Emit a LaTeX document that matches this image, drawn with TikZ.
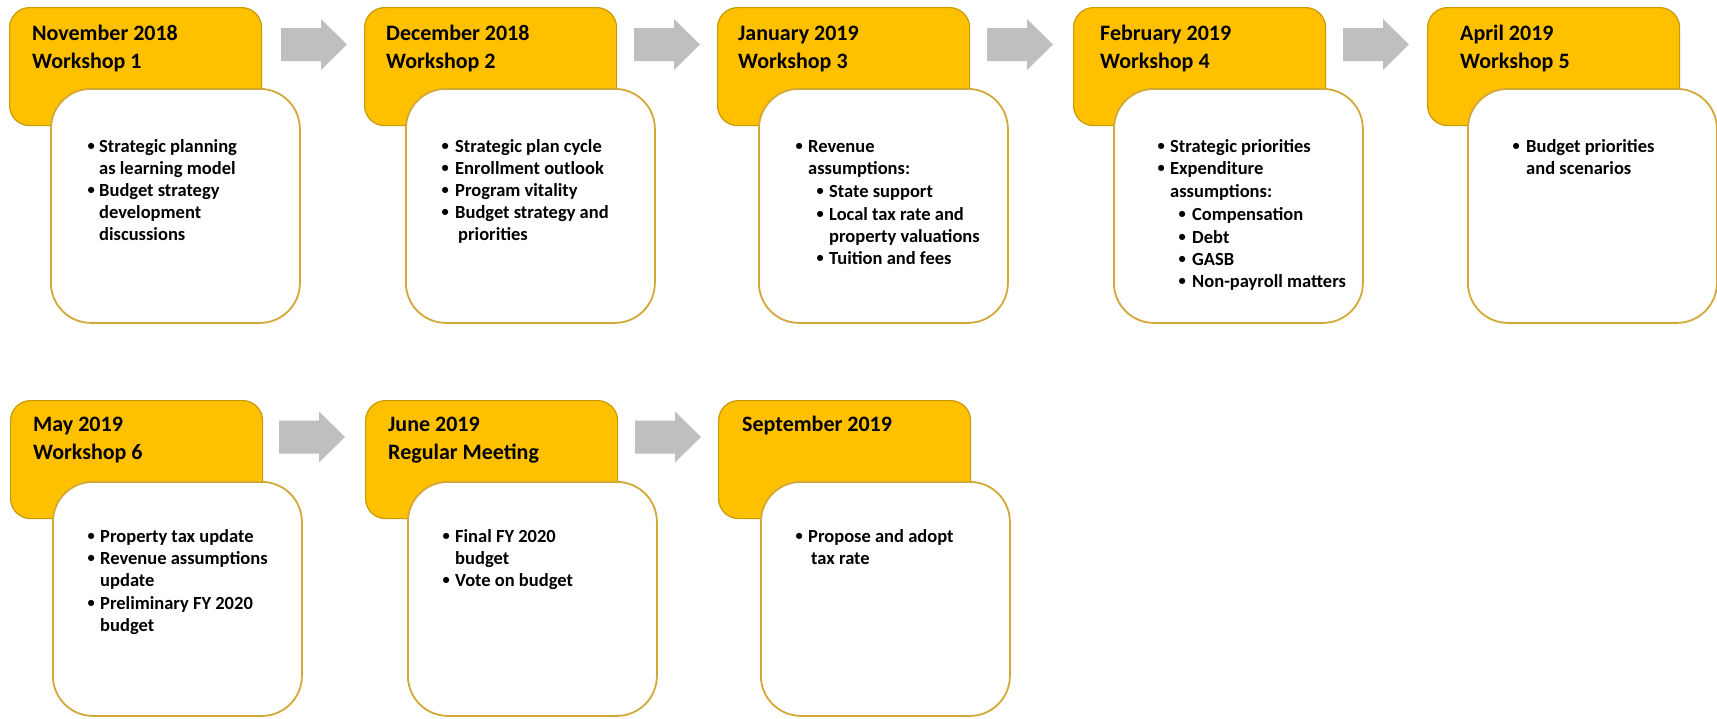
\documentclass[tikz,border=0pt]{standalone}
\usepackage{fontspec}
\setmainfont{Carlito}
\definecolor{gold}{HTML}{FFC000}
\definecolor{goldline}{HTML}{C89B06}
\definecolor{wline}{HTML}{D2A837}
\definecolor{arrowgray}{HTML}{BFBFBF}
\tikzset{
 ybox/.style={draw=goldline, line width=1.2pt, fill=gold, rounded corners=20pt, minimum width=252pt, minimum height=118pt, anchor=north west, inner sep=0pt},
 wbox/.style={draw=wline, line width=1.8pt, fill=white, rounded corners=40pt, minimum width=249pt, minimum height=234pt, anchor=north west, inner sep=0pt},
 ttl/.style={anchor=base west, font=\bfseries\fontsize{22}{27}\selectfont, inner sep=0pt},
 txt/.style={anchor=base west, font=\bfseries\fontsize{18.5}{22}\selectfont, inner sep=0pt},
 bul/.style={anchor=base west, font=\bfseries\fontsize{14.5}{16}\selectfont, inner sep=0pt},
 blk/.style={fill=arrowgray},
 blockarrow/.pic={\fill[blk] (0,-16.5) -- (40,-16.5) -- (40,-25.5) -- (66,0) -- (40,25.5) -- (40,16.5) -- (0,16.5) -- cycle;}
}
\newcommand{\bdot}{\raisebox{1.3pt}{•}}
\begin{document}
\begin{tikzpicture}[x=1pt,y=-1pt]
\useasboundingbox (0,0) rectangle (1717,718);
% ---------- row 1 ----------
\node[ybox] (y1) at (9,7) {};
\node[wbox] (w1) at (50,88) {};
\node[ybox] (y2) at (364,7) {};
\node[wbox] (w2) at (405,88) {};
\node[ybox] (y3) at (717,7) {};
\node[wbox] (w3) at (758,88) {};
\node[ybox] (y4) at (1073,7) {};
\node[wbox] (w4) at (1113,88) {};
\node[ybox] (y5) at (1427,7) {};
\node[wbox] (w5) at (1467,88) {};
% ---------- row 2 ----------
\node[ybox] (y6) at (10,400) {};
\node[wbox] (w6) at (52,481) {};
\node[ybox] (y7) at (365,400) {};
\node[wbox] (w7) at (407,481) {};
\node[ybox] (y8) at (718,400) {};
\node[wbox] (w8) at (760,481) {};
% ---------- arrows ----------
\pic at (281,44.5) {blockarrow};
\pic at (634,44.5) {blockarrow};
\pic at (987,44.5) {blockarrow};
\pic at (1343,44.5) {blockarrow};
\pic at (279,437) {blockarrow};
\pic at (635,437) {blockarrow};
% ---------- titles ----------
\node[ttl] (t1a) at (32,40) {November 2018};
\node[ttl] (t1b) at (32,68) {Workshop 1};
\node[ttl] (t2a) at (386,40) {December 2018};
\node[ttl] (t2b) at (386,68) {Workshop 2};
\node[ttl] (t3a) at (738,40) {January 2019};
\node[ttl] (t3b) at (738,68) {Workshop 3};
\node[ttl] (t4a) at (1100,40) {February 2019};
\node[ttl] (t4b) at (1100,68) {Workshop 4};
\node[ttl] (t5a) at (1460,40) {April 2019};
\node[ttl] (t5b) at (1460,68) {Workshop 5};
\node[ttl] (t6a) at (33,431) {May 2019};
\node[ttl] (t6b) at (33,459) {Workshop 6};
\node[ttl] (t7a) at (388,431) {June 2019};
\node[ttl] (t7b) at (388,459) {Regular Meeting};
\node[ttl] (t8a) at (742,431) {September 2019};
% ---------- box 1 ----------
\node[bul] (b1a) at (87.5,152) {\bdot};
\node[txt] (l1a) at (99,152) {Strategic planning};
\node[txt] (l1b) at (99,174) {as learning model};
\node[bul] (b1b) at (87.5,196) {\bdot};
\node[txt] (l1c) at (99,196) {Budget strategy};
\node[txt] (l1d) at (99,218) {development};
\node[txt] (l1e) at (99,240) {discussions};
% ---------- box 2 ----------
\node[bul] (b2a) at (441.5,152) {\bdot};
\node[txt] (l2a) at (455,152) {Strategic plan cycle};
\node[bul] (b2b) at (441.5,174) {\bdot};
\node[txt] (l2b) at (455,174) {Enrollment outlook};
\node[bul] (b2c) at (441.5,196) {\bdot};
\node[txt] (l2c) at (455,196) {Program vitality};
\node[bul] (b2d) at (441.5,218) {\bdot};
\node[txt] (l2d) at (455,218) {Budget strategy and};
\node[txt] (l2e) at (458,240) {priorities};
% ---------- box 3 ----------
\node[bul] (b3a) at (795.5,152) {\bdot};
\node[txt] (l3a) at (808,152) {Revenue};
\node[txt] (l3b) at (808,174) {assumptions:};
\node[bul] (b3b) at (816.5,197) {\bdot};
\node[txt] (l3c) at (829,197) {State support};
\node[bul] (b3c) at (816.5,220) {\bdot};
\node[txt] (l3d) at (829,220) {Local tax rate and};
\node[txt] (l3e) at (829,242) {property valuations};
\node[bul] (b3d) at (816.5,264) {\bdot};
\node[txt] (l3f) at (829,264) {Tuition and fees};
% ---------- box 4 ----------
\node[bul] (b4a) at (1157.5,152) {\bdot};
\node[txt] (l4a) at (1170,152) {Strategic priorities};
\node[bul] (b4b) at (1157.5,174) {\bdot};
\node[txt] (l4b) at (1170,174) {Expenditure};
\node[txt] (l4c) at (1170,197) {assumptions:};
\node[bul] (b4c) at (1178.5,220) {\bdot};
\node[txt] (l4d) at (1192,220) {Compensation};
\node[bul] (b4d) at (1178.5,243) {\bdot};
\node[txt] (l4e) at (1192,243) {Debt};
\node[bul] (b4e) at (1178.5,265) {\bdot};
\node[txt] (l4f) at (1192,265) {GASB};
\node[bul] (b4f) at (1178.5,287) {\bdot};
\node[txt] (l4g) at (1192,287) {Non-payroll matters};
% ---------- box 5 ----------
\node[bul] (b5a) at (1512.5,152) {\bdot};
\node[txt] (l5a) at (1526,152) {Budget priorities};
\node[txt] (l5b) at (1526,174) {and scenarios};
% ---------- box 6 ----------
\node[bul] (b6a) at (87.5,542) {\bdot};
\node[txt] (l6a) at (100,542) {Property tax update};
\node[bul] (b6b) at (87.5,564) {\bdot};
\node[txt] (l6b) at (100,564) {Revenue assumptions};
\node[txt] (l6c) at (100,586) {update};
\node[bul] (b6c) at (87.5,609) {\bdot};
\node[txt] (l6d) at (100,609) {Preliminary FY 2020};
\node[txt] (l6e) at (100,631) {budget};
% ---------- box 7 ----------
\node[bul] (b7a) at (442.5,542) {\bdot};
\node[txt] (l7a) at (455,542) {Final FY 2020};
\node[txt] (l7b) at (455,564) {budget};
\node[bul] (b7b) at (442.5,586) {\bdot};
\node[txt] (l7c) at (455,586) {Vote on budget};
% ---------- box 8 ----------
\node[bul] (b8a) at (795.5,542) {\bdot};
\node[txt] (l8a) at (808,542) {Propose and adopt};
\node[txt] (l8b) at (811,564) {tax rate};
\end{tikzpicture}
\end{document}
